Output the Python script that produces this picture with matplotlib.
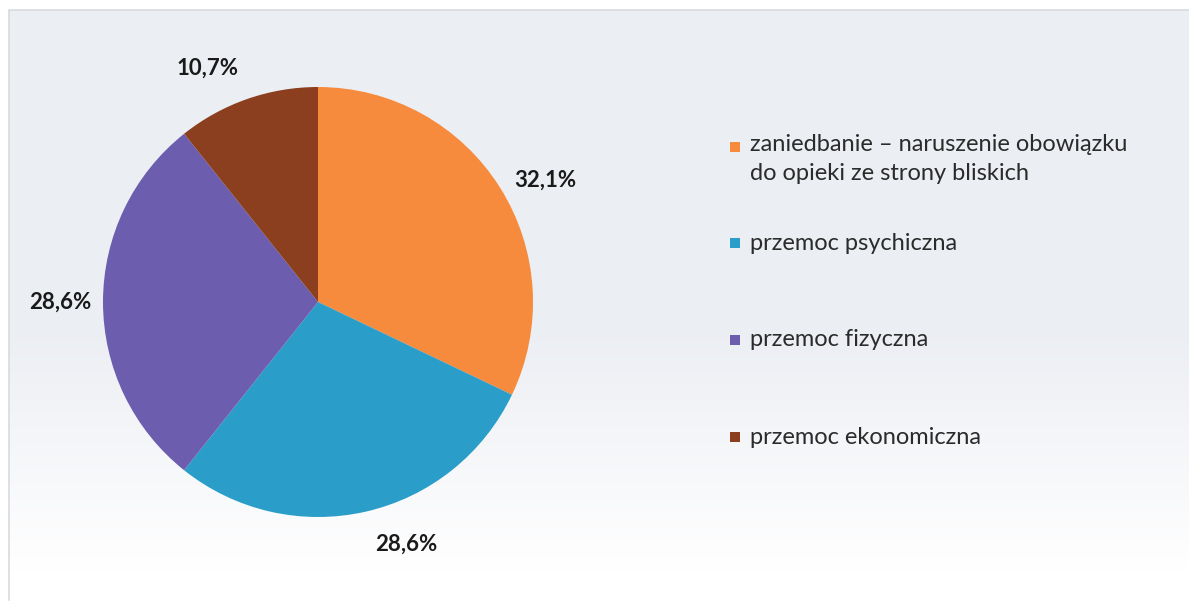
import numpy as np
import matplotlib
matplotlib.use("Agg")
import matplotlib.pyplot as plt
from matplotlib.patches import Rectangle

categories = [
    "zaniedbanie \u2013 naruszenie obowiązku\ndo opieki ze strony bliskich",
    "przemoc psychiczna",
    "przemoc fizyczna",
    "przemoc ekonomiczna",
]
values = [32.1, 28.6, 28.6, 10.7]
value_labels = ["32,1%", "28,6%", "28,6%", "10,7%"]
colors = ["#F68B3D", "#2A9DC9", "#6C5DAF", "#8B3F1F"]

# layout: small angular nudges for the outside labels (degrees)
label_angle_offset = [-4, 7, 0, 6]

W, H = 1189, 608
fig = plt.figure(figsize=(W / 100, H / 100), dpi=100)
fig.patch.set_facecolor("white")

# background panel with gradient
bg = fig.add_axes([0, 0, 1, 1], zorder=0)
bg.set_xlim(0, W)
bg.set_ylim(H, 0)
bg.axis("off")
grad = np.linspace(0, 1, 256).reshape(-1, 1)
top = np.array([0.925, 0.935, 0.955])
bot = np.array([1.0, 1.0, 1.0])
t = np.clip((grad - 0.55) / 0.4, 0, 1)
img = top * (1 - t) + bot * t
img = np.repeat(img[:, None, :], 2, axis=1)
bg.imshow(img, extent=[9, W, 600, 10], aspect="auto", zorder=0)
bg.plot([9, 9, W], [600, 10, 10], color="#D8DADD", lw=1.2, zorder=1)

# pie axes
cx, cy, r = 318, 302, 215
ax = fig.add_axes([(cx - r) / W, (H - cy - r) / H, 2 * r / W, 2 * r / H], zorder=2)
ax.set_facecolor("none")
wedges, _ = ax.pie(values, colors=colors, startangle=90, counterclock=False,
                   radius=1, wedgeprops=dict(linewidth=0))
ax.set_xlim(-1, 1)
ax.set_ylim(-1, 1)
ax.set_aspect("equal")
for w, lab, off in zip(wedges, value_labels, label_angle_offset):
    ang = np.deg2rad((w.theta1 + w.theta2) / 2 + off)
    ax.text(1.2 * np.cos(ang), 1.2 * np.sin(ang), lab, ha="center", va="center",
            fontsize=16, fontweight="bold", color="#1a1a1a", family="Lato",
            clip_on=False)

# legend (manual so the marker aligns with the first text line)
leg_y = [147, 243, 340, 437]
for y, lab, c in zip(leg_y, categories, colors):
    bg.add_patch(Rectangle((730, y - 5), 10, 10, facecolor=c, edgecolor="none", zorder=3))
    if "\n" in lab:
        bg.text(750, y - 13, lab, ha="left", va="top", fontsize=17, color="#2b2b2b",
                family="Lato", linespacing=1.5, zorder=3)
    else:
        bg.text(750, y, lab, ha="left", va="center", fontsize=17, color="#2b2b2b",
                family="Lato", zorder=3)

fig.savefig("out.png", dpi=100)
